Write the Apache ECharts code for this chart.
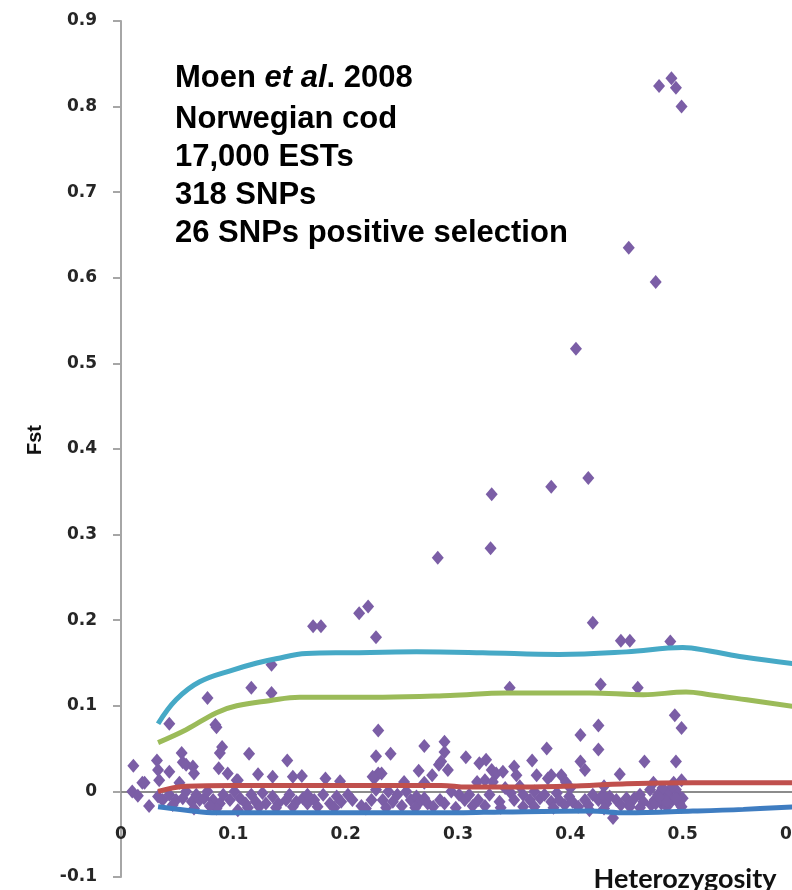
<!DOCTYPE html>
<html>
<head>
<meta charset="utf-8">
<script src="https://cdn.jsdelivr.net/npm/echarts@6/dist/echarts.min.js"></script>
<style>
  html, body { margin: 0; padding: 0; background: #ffffff; }
  #chart { width: 792px; height: 890px; }
</style>
</head>
<body>
<div id="chart"></div>
<script>
// Tick labels
const xTickLabels = ['0', '0.1', '0.2', '0.3', '0.4', '0.5', '0.6'];
const yTickLabels = ['-0.1', '0', '0.1', '0.2', '0.3', '0.4', '0.5', '0.6', '0.7', '0.8', '0.9'];

// Annotation lines
const noteLines = ['Moen|et al|. 2008', 'Norwegian cod', '17,000 ESTs', '318 SNPs', '26 SNPs positive selection'];

// SNP loci: [heterozygosity, Fst] — outliers above the neutral envelope
const snpOutliers = [
  [0.479, 0.824], [0.490, 0.833], [0.494, 0.822], [0.499, 0.800], [0.452, 0.635],
  [0.476, 0.595], [0.405, 0.517], [0.416, 0.366], [0.383, 0.356], [0.330, 0.347],
  [0.329, 0.284], [0.282, 0.273], [0.212, 0.208], [0.220, 0.216], [0.227, 0.180],
  [0.171, 0.193], [0.178, 0.193], [0.134, 0.148], [0.116, 0.121], [0.134, 0.115],
  [0.077, 0.109], [0.043, 0.079], [0.084, 0.078], [0.420, 0.197], [0.445, 0.176],
  [0.453, 0.176], [0.489, 0.175], [0.460, 0.121], [0.427, 0.125], [0.346, 0.121],
  [0.493, 0.089], [0.499, 0.074], [0.425, 0.077], [0.409, 0.066], [0.425, 0.049],
  [0.466, 0.035], [0.494, 0.035]
];

// SNP loci between 0.01 and 0.08
const snpMid = [
  [0.229, 0.071], [0.227, 0.041], [0.240, 0.044], [0.270, 0.053], [0.288, 0.058],
  [0.288, 0.046], [0.307, 0.040], [0.319, 0.033], [0.325, 0.037], [0.283, 0.031],
  [0.291, 0.025], [0.265, 0.024], [0.277, 0.019], [0.229, 0.021], [0.226, 0.016],
  [0.252, 0.011], [0.270, 0.010], [0.317, 0.011], [0.324, 0.013], [0.224, 0.017],
  [0.232, 0.021], [0.285, 0.035], [0.085, 0.075], [0.090, 0.052], [0.088, 0.045],
  [0.054, 0.045], [0.114, 0.044], [0.148, 0.036], [0.011, 0.030], [0.032, 0.036],
  [0.055, 0.034], [0.058, 0.031], [0.033, 0.025], [0.043, 0.023], [0.064, 0.029],
  [0.065, 0.021], [0.087, 0.027], [0.095, 0.021], [0.103, 0.013], [0.122, 0.020],
  [0.135, 0.017], [0.153, 0.017], [0.161, 0.018], [0.019, 0.010], [0.034, 0.013],
  [0.052, 0.010], [0.104, 0.013], [0.182, 0.015], [0.195, 0.012], [0.379, 0.050],
  [0.366, 0.036], [0.409, 0.035], [0.413, 0.025], [0.444, 0.020], [0.330, 0.025],
  [0.334, 0.021], [0.340, 0.023], [0.331, 0.011], [0.350, 0.029], [0.352, 0.019],
  [0.370, 0.019], [0.380, 0.015], [0.383, 0.019], [0.392, 0.019], [0.396, 0.011],
  [0.474, 0.010], [0.492, 0.010], [0.499, 0.013], [0.491, 0.006], [0.471, 0.002]
];

// SNP loci in the dense band around zero
const snpBand = [
  [0.010, 0.000], [0.015, -0.005], [0.021, 0.010], [0.025, -0.017], [0.033, -0.006],
  [0.037, -0.010], [0.043, -0.004], [0.049, -0.010], [0.055, -0.008], [0.058, 0.000],
  [0.063, -0.012], [0.067, -0.004], [0.070, -0.010], [0.074, -0.008], [0.077, 0.000],
  [0.082, -0.010], [0.088, -0.014], [0.091, -0.004], [0.097, -0.010], [0.101, 0.000],
  [0.106, -0.008], [0.111, -0.014], [0.116, -0.004], [0.120, -0.012], [0.126, -0.002],
  [0.129, -0.014], [0.135, -0.006], [0.140, -0.014], [0.147, -0.010], [0.150, -0.004],
  [0.156, -0.012], [0.162, -0.008], [0.166, -0.014], [0.065, -0.020], [0.085, -0.020],
  [0.104, -0.022], [0.123, -0.018], [0.153, -0.018],
  [0.166, -0.004], [0.172, -0.010], [0.180, -0.004], [0.186, -0.014], [0.192, -0.006],
  [0.196, -0.012], [0.202, -0.004], [0.206, -0.010], [0.214, -0.017], [0.223, -0.010],
  [0.227, 0.002], [0.233, -0.010], [0.238, 0.000], [0.242, -0.012], [0.246, -0.004],
  [0.250, -0.017], [0.254, 0.000], [0.258, -0.010], [0.263, -0.006], [0.266, -0.012],
  [0.270, -0.008], [0.273, -0.014], [0.278, -0.018], [0.284, -0.010], [0.288, -0.014],
  [0.294, 0.000], [0.301, -0.004], [0.306, -0.010], [0.310, -0.004], [0.313, -0.017],
  [0.318, -0.010], [0.324, -0.017], [0.328, -0.004],
  [0.347, -0.002], [0.350, -0.010], [0.358, -0.004], [0.364, -0.010], [0.368, 0.000],
  [0.373, -0.008], [0.377, -0.004], [0.383, -0.012], [0.388, -0.002], [0.390, -0.010],
  [0.395, -0.016], [0.399, -0.006], [0.402, -0.012], [0.407, -0.018], [0.413, -0.010],
  [0.416, -0.016], [0.420, -0.004], [0.425, -0.010], [0.429, -0.004], [0.432, -0.014],
  [0.435, -0.006], [0.438, -0.031], [0.441, -0.010], [0.445, -0.016], [0.450, -0.008],
  [0.453, -0.014], [0.457, -0.008], [0.462, -0.004], [0.465, -0.012], [0.475, -0.010],
  [0.478, -0.004], [0.481, -0.014], [0.484, -0.006], [0.488, 0.000], [0.491, -0.010],
  [0.496, -0.004], [0.497, -0.014], [0.500, -0.008], [0.358, -0.018], [0.368, -0.018],
  [0.417, -0.022], [0.453, -0.018], [0.337, -0.012], [0.342, 0.004], [0.355, 0.006],
  [0.400, 0.004], [0.430, 0.006], [0.472, -0.016], [0.486, -0.018], [0.494, 0.002],
  [0.499, -0.018], [0.482, 0.004], [0.046, -0.016], [0.079, -0.017], [0.113, -0.019],
  [0.138, -0.019], [0.175, -0.018], [0.190, -0.019], [0.218, -0.020], [0.236, -0.019],
  [0.262, -0.019], [0.298, -0.019], [0.338, -0.019], [0.385, -0.019], [0.430, -0.020],
  [0.462, -0.019], [0.476, -0.014], [0.480, -0.008], [0.486, -0.012], [0.494, -0.008]
];

// Fitted quantile curves: [heterozygosity, Fst]
const upper99 = [
  [0.033, 0.079], [0.049, 0.107], [0.070, 0.128], [0.100, 0.142], [0.121, 0.150],
  [0.138, 0.155], [0.165, 0.161], [0.204, 0.162], [0.263, 0.163], [0.322, 0.162],
  [0.390, 0.160], [0.450, 0.163], [0.500, 0.168], [0.524, 0.164], [0.554, 0.157],
  [0.600, 0.149]
];
const upper95 = [
  [0.033, 0.057], [0.058, 0.072], [0.085, 0.092], [0.103, 0.100], [0.132, 0.106],
  [0.159, 0.110], [0.233, 0.110], [0.293, 0.112], [0.343, 0.115], [0.417, 0.115],
  [0.465, 0.113], [0.503, 0.116], [0.524, 0.113], [0.557, 0.107], [0.600, 0.099]
];
const median = [
  [0.033, 0.000], [0.058, 0.006], [0.100, 0.007], [0.200, 0.007], [0.285, 0.007],
  [0.308, 0.005], [0.355, 0.005], [0.417, 0.007], [0.450, 0.009], [0.509, 0.010],
  [0.600, 0.010]
];
const lower = [
  [0.033, -0.018], [0.058, -0.022], [0.085, -0.025], [0.120, -0.025], [0.300, -0.025],
  [0.340, -0.024], [0.417, -0.023], [0.450, -0.025], [0.509, -0.023], [0.554, -0.021],
  [0.600, -0.018]
];

const tickFont = { fontFamily: 'DejaVu Sans', fontWeight: 'bold', fontSize: 17, color: '#262626' };

function curve(data, color) {
  return {
    type: 'line', data: data, smooth: 0.4, showSymbol: false, z: 3,
    lineStyle: { color: color, width: 5 }
  };
}

const chart = echarts.init(document.getElementById('chart'), null, { renderer: 'canvas' });
chart.setOption({
  animation: false,
  backgroundColor: '#ffffff',
  grid: { left: 121, top: 21, width: 674, height: 856, containLabel: false, outerBoundsMode: 'none' },
  xAxis: [
    {
      // zero line through the plot
      type: 'value', min: 0, max: 0.6, interval: 0.1,
      axisLine: { onZero: true, lineStyle: { color: '#8c8c8c', width: 2 } },
      axisTick: { show: false },
      splitLine: { show: false },
      axisLabel: { show: false }
    },
    {
      // tick labels set just below the zero line
      type: 'value', min: 0, max: 0.6, interval: 0.1, position: 'bottom', offset: -51,
      axisLine: { show: false, onZero: false },
      axisTick: { show: false },
      splitLine: { show: false },
      axisLabel: Object.assign({ margin: 0, formatter: v => xTickLabels[Math.round(v * 10)] }, tickFont)
    }
  ],
  yAxis: {
    type: 'value', min: -0.1, max: 0.9, interval: 0.1,
    axisLine: { show: true, onZero: false, lineStyle: { color: '#a6a6a6', width: 2 } },
    axisTick: { show: true, length: 8, lineStyle: { color: '#a6a6a6', width: 2 } },
    splitLine: { show: false },
    axisLabel: Object.assign({ margin: 24, formatter: v => yTickLabels[Math.round(v * 10) + 1] }, tickFont)
  },
  series: [
    {
      type: 'scatter', z: 2,
      data: snpBand.concat(snpMid, snpOutliers),
      symbol: 'diamond', symbolSize: [12, 14],
      itemStyle: { color: '#7b5ea6', opacity: 1 }
    },
    curve(lower, '#3f7dc1'),
    curve(median, '#c0504d'),
    curve(upper95, '#9bbb59'),
    curve(upper99, '#46a9c6')
  ],
  graphic: [
    {
      type: 'text', left: 175, top: 82 - 19, z: 10,
      style: {
        text: '{b|' + noteLines[0].split('|')[0] + ' }{i|' + noteLines[0].split('|')[1] + '}{b|' + noteLines[0].split('|')[2] + '}',
        rich: {
          b: { font: 'bold 31px "Liberation Sans", Arial, sans-serif', fill: '#000' },
          i: { font: 'italic bold 31px "Liberation Sans", Arial, sans-serif', fill: '#000' }
        }
      }
    }
  ].concat(noteLines.slice(1).map((t, i) => ({
    type: 'text', z: 10,
    style: {
      x: 175, y: 82 + 37.8 * (i + 1), text: t,
      font: 'bold 31px "Liberation Sans", Arial, sans-serif', fill: '#000',
      textAlign: 'left', textVerticalAlign: 'middle'
    }
  }))).concat([
    {
      type: 'text', z: 10, x: 35, y: 440, rotation: Math.PI / 2,
      style: {
        x: 0, y: 0, text: 'Fst', font: 'bold 20px "Liberation Sans", Arial, sans-serif',
        fill: '#111', textAlign: 'center', textVerticalAlign: 'middle'
      }
    },
    {
      type: 'text', z: 10,
      style: {
        x: 685, y: 879, text: 'Heterozygosity', font: 'bold 27px Lato, "Liberation Sans", sans-serif',
        fill: '#111', textAlign: 'center', textVerticalAlign: 'middle'
      }
    }
  ])
});
</script>
</body>
</html>
